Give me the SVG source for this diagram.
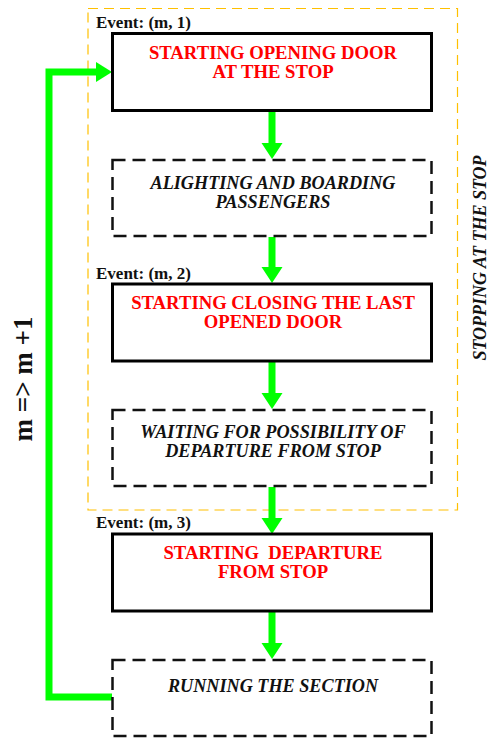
<svg xmlns="http://www.w3.org/2000/svg" width="490" height="739" viewBox="0 0 490 739">
<style>
.solid{fill:#fff;stroke:#000;stroke-width:3}
.dash{fill:#fff;stroke:#111;stroke-width:2.5;stroke-dasharray:13 7}
.grp{fill:none;stroke:#FFC000;stroke-width:1.2;stroke-dasharray:10 6}
.ev{font-family:"Liberation Serif","Times New Roman",serif;font-weight:bold;font-size:17px;fill:#111}
.red{font-family:"Liberation Serif","Times New Roman",serif;font-weight:bold;font-size:18.7px;fill:#FF0000;text-anchor:middle}
.ital{font-family:"Liberation Serif","Times New Roman",serif;font-weight:bold;font-style:italic;font-size:18.2px;fill:#111;text-anchor:middle}
.shaft{stroke:#00FF00;stroke-width:7;fill:none}
.head{fill:#00FF00}
</style>
<rect id="stopping-group" class="grp" x="88" y="8.5" width="369.5" height="501.5"/>
<g id="connectors">
  <line class="shaft" x1="272" y1="112" x2="272" y2="145"/>
  <polygon class="head" points="261.5,143 282.5,143 272,159"/>
  <line class="shaft" x1="272" y1="237" x2="272" y2="269"/>
  <polygon class="head" points="261.5,267 282.5,267 272,283"/>
  <line class="shaft" x1="272" y1="362" x2="272" y2="395"/>
  <polygon class="head" points="261.5,393 282.5,393 272,409"/>
  <line class="shaft" x1="272" y1="487" x2="272" y2="520"/>
  <polygon class="head" points="261.5,518 282.5,518 272,534"/>
  <line class="shaft" x1="272" y1="612" x2="272" y2="645"/>
  <polygon class="head" points="261.5,643 282.5,643 272,659"/>
  <polyline class="shaft" points="112,697 49,697 49,72 98,72"/>
  <polygon class="head" points="96,62 96,82 112,72"/>
</g>
<g id="node1">
  <text class="ev" x="96" y="27.5">Event: (m, 1)</text>
  <rect class="solid" x="112.5" y="33.5" width="319" height="77"/>
  <text class="red" x="273" y="59">STARTING OPENING DOOR</text>
  <text class="red" x="273" y="78">AT THE STOP</text>
</g>
<g id="node2">
  <rect class="dash" x="112.5" y="160" width="319" height="76"/>
  <text class="ital" x="273" y="189">ALIGHTING AND BOARDING</text>
  <text class="ital" x="273" y="207.5">PASSENGERS</text>
</g>
<g id="node3">
  <text class="ev" x="96" y="278.5">Event: (m, 2)</text>
  <rect class="solid" x="112.5" y="284" width="319" height="77"/>
  <text class="red" x="273" y="309">STARTING CLOSING THE LAST</text>
  <text class="red" x="273" y="328">OPENED DOOR</text>
</g>
<g id="node4">
  <rect class="dash" x="112.5" y="410" width="319" height="76"/>
  <text class="ital" x="273" y="437.5">WAITING FOR POSSIBILITY OF</text>
  <text class="ital" x="273" y="456.5">DEPARTURE FROM STOP</text>
</g>
<g id="node5">
  <text class="ev" x="96" y="528">Event: (m, 3)</text>
  <rect class="solid" x="112.5" y="534" width="319" height="77"/>
  <text class="red" x="273" y="559" xml:space="preserve">STARTING  DEPARTURE</text>
  <text class="red" x="273" y="578">FROM STOP</text>
</g>
<g id="node6">
  <rect class="dash" x="112.5" y="660" width="319" height="76"/>
  <text class="ital" x="273" y="691.5">RUNNING THE SECTION</text>
</g>
<text class="ital" transform="translate(486,258) rotate(-90)" x="0" y="0" style="font-size:18px">STOPPING AT THE STOP</text>
<text transform="translate(32,379) rotate(-90)" x="0" y="0" style="font-family:'Liberation Serif','Times New Roman',serif;font-weight:bold;font-size:27px;fill:#111;text-anchor:middle">m =&gt; m +1</text>
</svg>
